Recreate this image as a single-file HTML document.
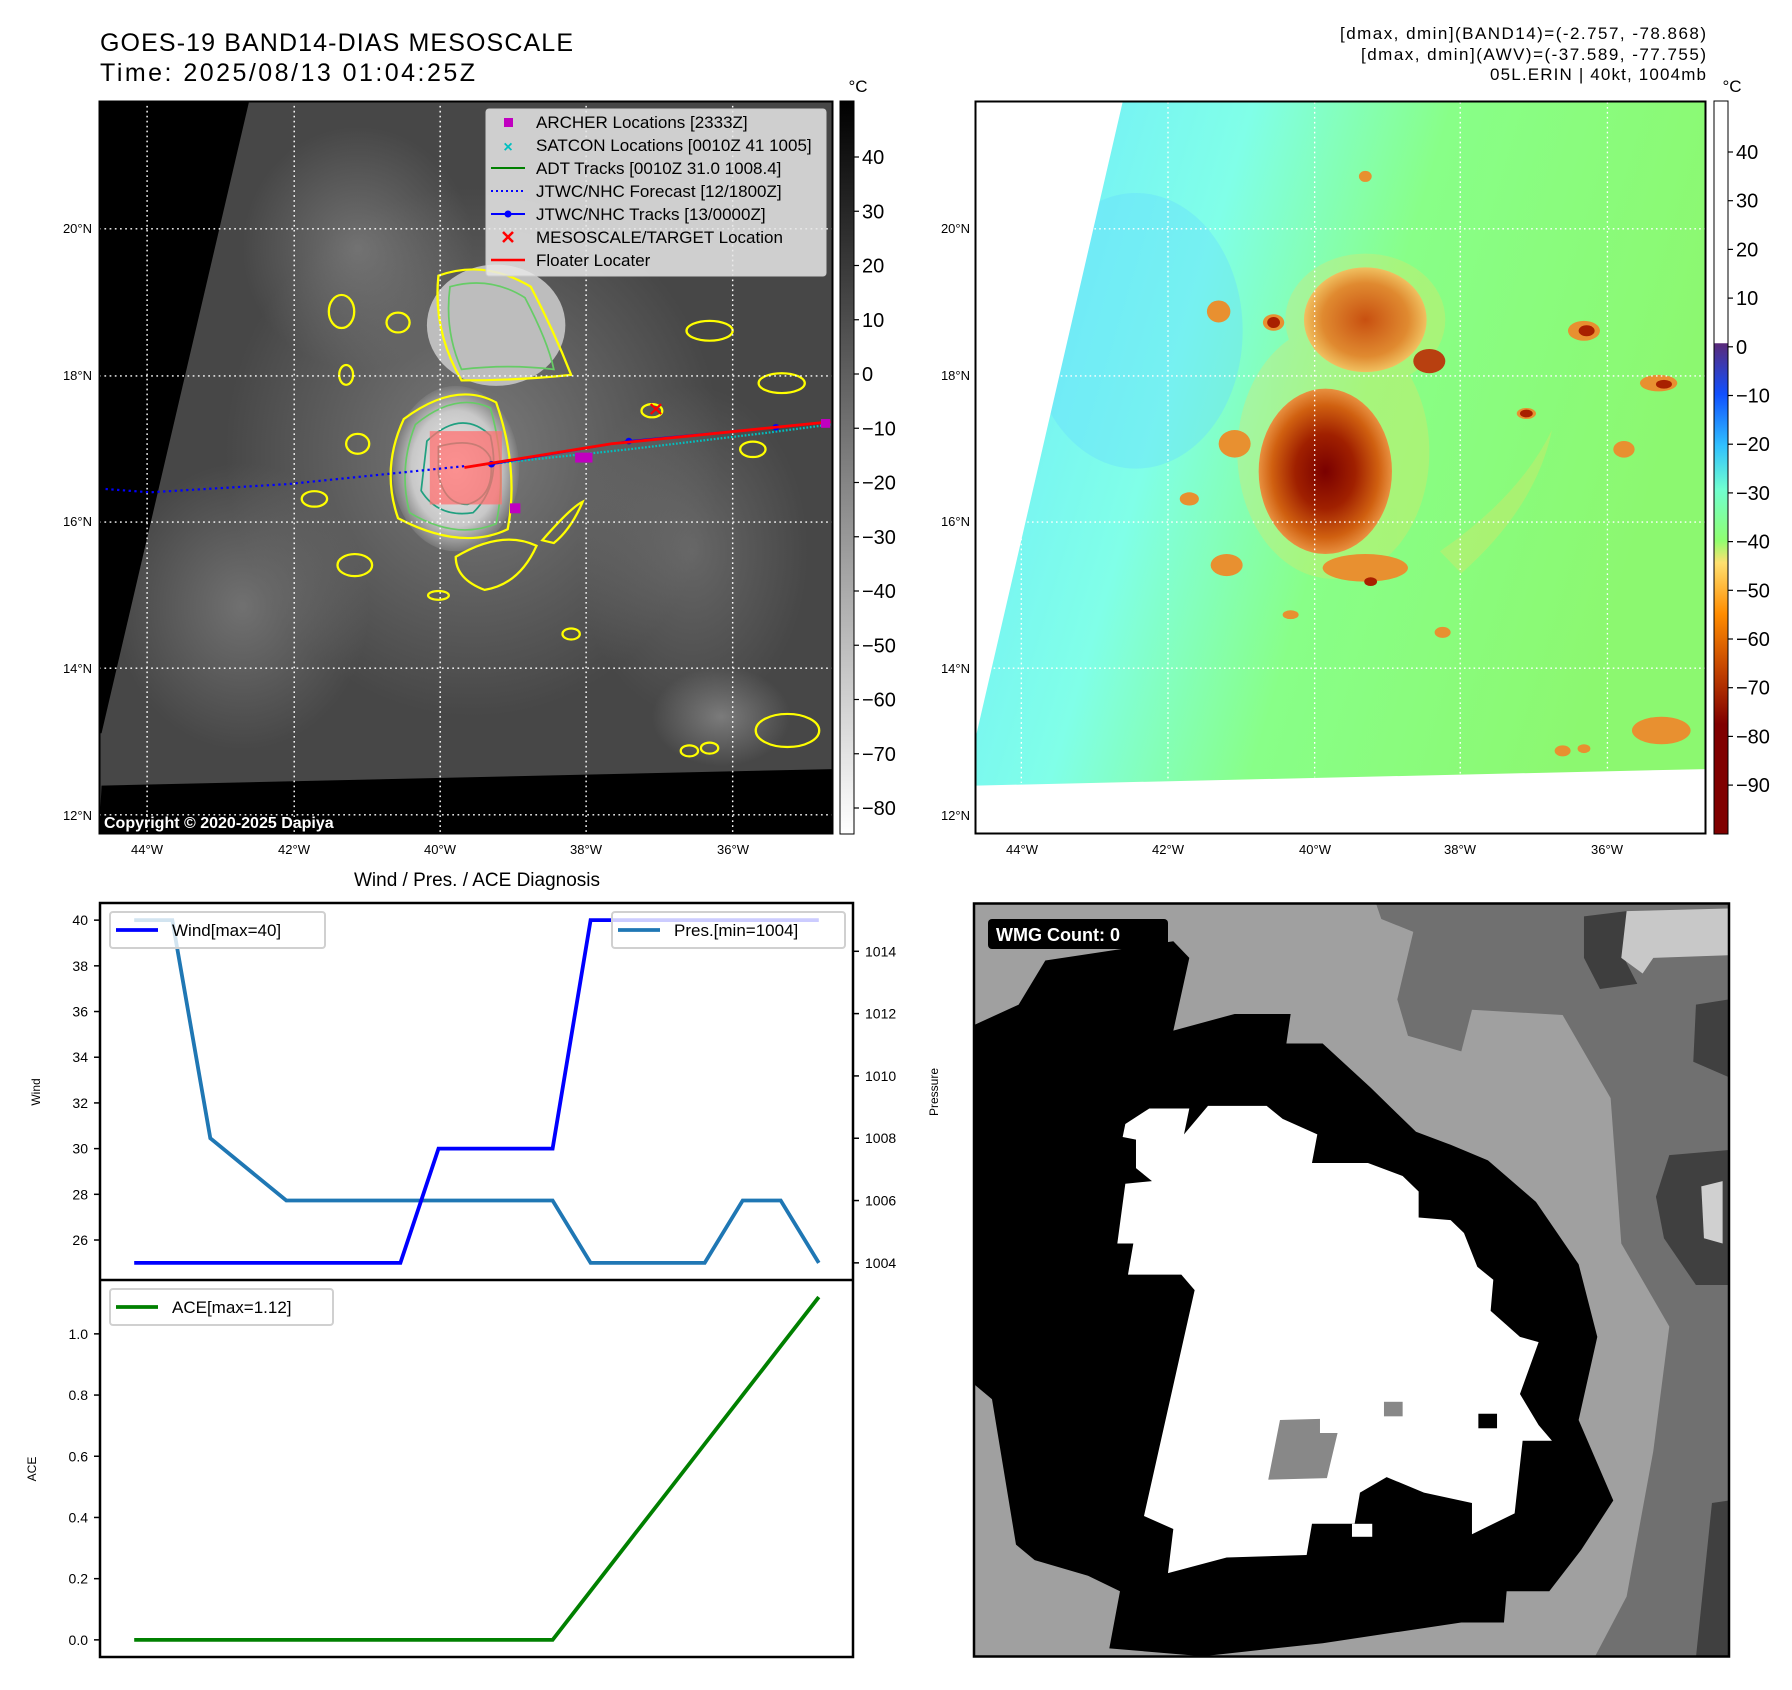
<!DOCTYPE html>
<html><head><meta charset="utf-8"><style>
html,body{margin:0;padding:0;background:#fff;}
svg{display:block;font-family:"Liberation Sans","DejaVu Sans",sans-serif;}
</style></head><body>
<svg id="root" width="1792" height="1690" viewBox="0 0 1792 1690" xmlns="http://www.w3.org/2000/svg">
<defs>
<linearGradient id="cb1" x1="0" y1="0" x2="0" y2="1"><stop offset="0" stop-color="#000"/><stop offset="1" stop-color="#fff"/></linearGradient>
<linearGradient id="cb2" x1="0" y1="0" x2="0" y2="1">
<stop offset="0" stop-color="#fff"/><stop offset="0.33" stop-color="#fff"/><stop offset="0.331" stop-color="#5a2a7a"/>
<stop offset="0.40" stop-color="#1050ff"/><stop offset="0.47" stop-color="#30c0ff"/><stop offset="0.53" stop-color="#70ffd0"/>
<stop offset="0.60" stop-color="#90ff70"/><stop offset="0.63" stop-color="#ffe070"/><stop offset="0.70" stop-color="#ff8c00"/>
<stop offset="0.78" stop-color="#c04000"/><stop offset="0.85" stop-color="#800000"/><stop offset="1" stop-color="#800000"/></linearGradient>
<linearGradient id="bg2" x1="0" y1="0" x2="1" y2="0.3"><stop offset="0" stop-color="#6ee8ff"/><stop offset="0.35" stop-color="#80ffe8"/><stop offset="0.6" stop-color="#88ff88"/><stop offset="1" stop-color="#8cf870"/></linearGradient>
<radialGradient id="core1"><stop offset="0" stop-color="#f0f0f0"/><stop offset="0.7" stop-color="#c8c8c8"/><stop offset="1" stop-color="#777"/></radialGradient>
<radialGradient id="core2"><stop offset="0" stop-color="#7a0000"/><stop offset="0.45" stop-color="#a02000"/><stop offset="0.8" stop-color="#d06010"/><stop offset="1" stop-color="#e89040"/></radialGradient>
<radialGradient id="up2"><stop offset="0" stop-color="#c85010"/><stop offset="0.7" stop-color="#e08a30"/><stop offset="1" stop-color="#f0c060"/></radialGradient>
<radialGradient id="soft"><stop offset="0" stop-color="#888" stop-opacity="0.8"/><stop offset="1" stop-color="#888" stop-opacity="0"/></radialGradient>
</defs>

<text x="100" y="51" font-size="25" textLength="473">GOES-19 BAND14-DIAS MESOSCALE</text>
<text x="100" y="81" font-size="25" textLength="375">Time: 2025/08/13 01:04:25Z</text>
<g font-size="17" text-anchor="end">
<text x="1706" y="39" textLength="366">[dmax, dmin](BAND14)=(-2.757, -78.868)</text>
<text x="1706" y="60" textLength="345">[dmax, dmin](AWV)=(-37.589, -77.755)</text>
<text x="1706" y="80" textLength="216">05L.ERIN | 40kt, 1004mb</text>
</g>

<!-- MAP 1 -->
<g>
<clipPath id="c1"><rect x="99" y="101" width="734" height="733"/></clipPath>
<g clip-path="url(#c1)">
<g transform="scale(0.5769,0.5513)">
<rect x="172" y="183" width="1271" height="1330" fill="#474747"/>
<ellipse cx="820" cy="820" rx="430" ry="480" fill="url(#soft)"/>
<ellipse cx="420" cy="1100" rx="220" ry="260" fill="url(#soft)" opacity="0.8"/>
<ellipse cx="620" cy="450" rx="200" ry="220" fill="url(#soft)" opacity="0.8"/>
<ellipse cx="1200" cy="1000" rx="200" ry="300" fill="url(#soft)" opacity="0.6"/>
<ellipse cx="1250" cy="1300" rx="120" ry="90" fill="url(#soft)"/>
<ellipse cx="860" cy="590" rx="120" ry="110" fill="#bdbdbd"/>
<ellipse cx="790" cy="850" rx="110" ry="150" fill="url(#core1)"/>
<g fill="none" stroke="#ffff00" stroke-width="4">
<path d="M760,500 Q840,470 920,520 Q960,600 990,680 Q900,690 800,690 Q750,600 760,500Z"/>
<path d="M700,760 Q790,690 860,730 Q900,850 880,960 Q800,1000 690,940 Q660,850 700,760Z"/>
<path d="M790,1010 Q870,960 930,990 Q900,1060 840,1070 Q790,1050 790,1010Z"/>
<ellipse cx="592" cy="565" rx="22" ry="30"/><ellipse cx="690" cy="585" rx="20" ry="18"/>
<ellipse cx="620" cy="805" rx="20" ry="18"/><ellipse cx="545" cy="905" rx="22" ry="14"/>
<ellipse cx="615" cy="1025" rx="30" ry="20"/><ellipse cx="1230" cy="600" rx="40" ry="18"/>
<ellipse cx="1355" cy="695" rx="40" ry="18"/><ellipse cx="1130" cy="745" rx="18" ry="12"/>
<ellipse cx="1305" cy="815" rx="22" ry="14"/><ellipse cx="1365" cy="1325" rx="55" ry="30"/>
<ellipse cx="1195" cy="1362" rx="15" ry="10"/><ellipse cx="1230" cy="1357" rx="15" ry="10"/>
<ellipse cx="990" cy="1150" rx="15" ry="10"/><ellipse cx="760" cy="1080" rx="18" ry="8"/>
<ellipse cx="600" cy="680" rx="12" ry="18"/>
<path d="M940,980 Q990,920 1010,910 Q990,960 960,985Z"/>
</g>
<g fill="none" stroke="#66cc66" stroke-width="3">
<path d="M780,520 Q850,500 910,540 Q950,620 960,670 Q880,660 800,670 Q770,600 780,520Z"/>
<path d="M720,770 Q790,710 850,740 Q880,850 860,950 Q790,980 710,930 Q690,850 720,770Z"/>
</g>
<g fill="none" stroke="#20a080" stroke-width="3">
<path d="M740,800 Q800,740 850,790 Q870,880 820,930 Q760,940 730,890Z"/>
<path d="M760,810 Q830,790 850,830 Q860,900 810,915 Q770,915 760,860Z"/>
</g>
<rect x="745" y="782" width="125" height="133" fill="#ff7070" opacity="0.75"/>
<path d="M172,183 L432,183 L176,1330 L172,1330Z" fill="#000"/>
<path d="M176,1425 L1443,1395 L1443,1513 L172,1513Z" fill="#000"/>
<g stroke="#fff" stroke-width="2.5" stroke-dasharray="3,6">
<line x1="255" y1="183" x2="255" y2="1513"/><line x1="510" y1="183" x2="510" y2="1513"/>
<line x1="763" y1="183" x2="763" y2="1513"/><line x1="1016" y1="183" x2="1016" y2="1513"/>
<line x1="1270" y1="183" x2="1270" y2="1513"/>
<line x1="172" y1="415" x2="1443" y2="415"/><line x1="172" y1="682" x2="1443" y2="682"/>
<line x1="172" y1="947" x2="1443" y2="947"/><line x1="172" y1="1212" x2="1443" y2="1212"/>
<line x1="172" y1="1478" x2="1443" y2="1478"/>
</g>
<polyline points="183,887 260,893 500,878 810,845" fill="none" stroke="#0000ff" stroke-width="4" stroke-dasharray="4,6"/>
<polyline points="820,845 1090,815 1330,785 1440,770" fill="none" stroke="#00c0c0" stroke-width="4" stroke-dasharray="3,3"/>
<polyline points="852,842 1090,800 1345,775 1440,765" fill="none" stroke="#0000ff" stroke-width="3.5"/>
<circle cx="852" cy="842" r="6" fill="#0000ff"/><circle cx="1090" cy="800" r="6" fill="#0000ff"/><circle cx="1345" cy="775" r="6" fill="#0000ff"/>
<polyline points="805,848 1060,805 1440,765" fill="none" stroke="#ff0000" stroke-width="5"/>
<g fill="#c000c0"><rect x="884" y="913" width="18" height="18"/><rect x="997" y="821" width="30" height="18"/><rect x="1423" y="760" width="16" height="16"/></g>
<path d="M1128,733 L1146,751 M1146,733 L1128,751" stroke="#ff0000" stroke-width="4"/>
</g>
</g>
<text x="104" y="828" font-size="16" font-weight="bold" fill="#fff">Copyright © 2020-2025 Dapiya</text>
<rect x="99.5" y="101.5" width="733" height="732" fill="none" stroke="#000" stroke-width="2"/>
</g>

<g font-size="17">
<rect x="486" y="109" width="340" height="167" rx="3" fill="#e8e8e8" fill-opacity="0.85" stroke="#ccc"/>
<rect x="504" y="118" width="9" height="9" fill="#c000c0"/><text x="536" y="128">ARCHER Locations [2333Z]</text>
<text x="508" y="152" fill="#00c0c0" font-size="16" text-anchor="middle" font-weight="bold">×</text><text x="536" y="151">SATCON Locations [0010Z 41 1005]</text>
<line x1="491" y1="168" x2="525" y2="168" stroke="#008000" stroke-width="2"/><text x="536" y="174">ADT Tracks [0010Z 31.0 1008.4]</text>
<line x1="491" y1="191" x2="525" y2="191" stroke="#0000ff" stroke-width="2" stroke-dasharray="2,3"/><text x="536" y="197">JTWC/NHC Forecast [12/1800Z]</text>
<line x1="491" y1="214" x2="525" y2="214" stroke="#0000ff" stroke-width="2"/><circle cx="508" cy="214" r="3.5" fill="#0000ff"/><text x="536" y="220">JTWC/NHC Tracks [13/0000Z]</text>
<path d="M503,232 L513,242 M513,232 L503,242" stroke="#ff0000" stroke-width="2.5"/><text x="536" y="243">MESOSCALE/TARGET Location</text>
<line x1="491" y1="260" x2="525" y2="260" stroke="#ff0000" stroke-width="2.5"/><text x="536" y="266">Floater Locater</text>
</g>

<g font-size="13" text-anchor="end">
<text x="92" y="233">20°N</text><text x="92" y="380">18°N</text><text x="92" y="526">16°N</text><text x="92" y="673">14°N</text><text x="92" y="820">12°N</text>
</g>
<g font-size="13" text-anchor="middle">
<text x="147" y="854">44°W</text><text x="294" y="854">42°W</text><text x="440" y="854">40°W</text><text x="586" y="854">38°W</text><text x="733" y="854">36°W</text>
</g>
<g>
<rect x="840" y="101" width="14" height="733" fill="url(#cb1)" stroke="#000" stroke-width="1"/>
<text x="858" y="92" font-size="17" text-anchor="middle">°C</text>
<g id="cb1ticks" font-size="20"></g>
</g>

<!-- MAP 2 -->
<g>
<clipPath id="c2"><rect x="975" y="101" width="731" height="733"/></clipPath>
<g clip-path="url(#c2)">
<g transform="translate(960,0) scale(0.5333,0.5513)">
<rect x="27" y="185" width="1372" height="1325" fill="url(#bg2)"/>
<ellipse cx="330" cy="600" rx="200" ry="250" fill="#66ddff" opacity="0.4"/>
<g fill="#f0e060" opacity="0.3">
<ellipse cx="700" cy="820" rx="180" ry="230"/>
<path d="M900,1000 Q1050,900 1110,780 Q1080,920 940,1040Z"/>
<ellipse cx="760" cy="580" rx="150" ry="120"/>
</g>
<ellipse cx="760" cy="580" rx="115" ry="95" fill="url(#up2)"/>
<ellipse cx="880" cy="655" rx="30" ry="22" fill="#b84010"/>
<ellipse cx="685" cy="855" rx="125" ry="150" fill="url(#core2)"/>
<g fill="#e89030">
<ellipse cx="588" cy="585" rx="20" ry="15"/><ellipse cx="485" cy="565" rx="22" ry="20"/>
<ellipse cx="515" cy="805" rx="30" ry="25"/><ellipse cx="500" cy="1025" rx="30" ry="20"/>
<ellipse cx="430" cy="905" rx="18" ry="12"/><ellipse cx="1170" cy="600" rx="30" ry="18"/>
<ellipse cx="1310" cy="695" rx="35" ry="15"/><ellipse cx="1062" cy="750" rx="18" ry="10"/>
<ellipse cx="1245" cy="815" rx="20" ry="15"/><ellipse cx="1315" cy="1325" rx="55" ry="25"/>
<ellipse cx="1130" cy="1362" rx="15" ry="10"/><ellipse cx="1170" cy="1358" rx="12" ry="8"/>
<ellipse cx="760" cy="1030" rx="80" ry="25"/><ellipse cx="905" cy="1147" rx="15" ry="10"/>
<ellipse cx="620" cy="1115" rx="15" ry="8"/><ellipse cx="760" cy="320" rx="12" ry="10"/>
</g>
<g fill="#a82000"><ellipse cx="588" cy="585" rx="12" ry="10"/><ellipse cx="1175" cy="600" rx="15" ry="10"/><ellipse cx="1320" cy="697" rx="15" ry="8"/><ellipse cx="1062" cy="750" rx="12" ry="7"/><ellipse cx="770" cy="1055" rx="12" ry="8"/></g>
<path d="M27,185 L305,185 L30,1335 L27,1335Z" fill="#fff"/>
<path d="M30,1425 L1399,1395 L1399,1510 L27,1510Z" fill="#fff"/>
<g stroke="#fff" stroke-width="2.5" stroke-dasharray="3,6">
<line x1="115" y1="185" x2="115" y2="1420"/><line x1="390" y1="185" x2="390" y2="1415"/>
<line x1="665" y1="185" x2="665" y2="1410"/><line x1="938" y1="185" x2="938" y2="1405"/>
<line x1="1214" y1="185" x2="1214" y2="1400"/>
<line x1="27" y1="415" x2="1399" y2="415"/><line x1="27" y1="682" x2="1399" y2="682"/>
<line x1="27" y1="947" x2="1399" y2="947"/><line x1="27" y1="1212" x2="1399" y2="1212"/>
</g>
</g>
</g>
<rect x="975.5" y="101.5" width="730" height="732" fill="none" stroke="#000" stroke-width="2"/>
</g>
<g font-size="13" text-anchor="end">
<text x="970" y="233">20°N</text><text x="970" y="380">18°N</text><text x="970" y="526">16°N</text><text x="970" y="673">14°N</text><text x="970" y="820">12°N</text>
</g>
<g font-size="13" text-anchor="middle">
<text x="1022" y="854">44°W</text><text x="1168" y="854">42°W</text><text x="1315" y="854">40°W</text><text x="1460" y="854">38°W</text><text x="1607" y="854">36°W</text>
</g>
<g>
<rect x="1714" y="101" width="14" height="733" fill="url(#cb2)" stroke="#000" stroke-width="1"/>
<text x="1732" y="92" font-size="17" text-anchor="middle">°C</text>
<g id="cb2ticks" font-size="20"></g>
</g>

<!-- BOTTOM RIGHT -->
<g>
<g transform="translate(960,880) scale(0.5333,0.5192)">
<rect x="25" y="45" width="1417" height="1452" fill="#a0a0a0"/>
<path d="M780,45 L1442,45 L1442,1497 L1190,1497 L1250,1380 L1300,1100 L1330,860 L1240,700 L1220,420 L1130,260 L960,250 L940,330 L840,300 L820,230 L850,100 L790,75Z" fill="#707070"/>
<path d="M1170,70 L1250,60 L1245,150 L1270,200 L1200,210 L1170,150Z" fill="#3e3e3e"/>
<path d="M1250,60 L1440,55 L1440,145 L1300,150 L1280,180 L1240,150Z" fill="#c8c8c8"/>
<path d="M1380,240 L1442,230 L1442,380 L1375,350Z" fill="#404040"/>
<path d="M1330,530 L1442,520 L1442,780 L1380,780 L1320,690 L1305,610Z" fill="#404040"/>
<path d="M1390,590 L1430,580 L1430,700 L1395,690Z" fill="#d0d0d0"/>
<path d="M1410,1200 L1442,1195 L1442,1497 L1380,1497Z" fill="#404040"/>
<path d="M25,280 L110,240 L160,155 L400,118 L430,150 L400,290 L515,258 L620,258 L612,315 L680,315 L770,400 L855,485 L920,510 L990,540 L1080,620 L1160,740 L1195,880 L1160,1040 L1225,1195 L1165,1290 L1105,1370 L1025,1370 L1020,1430 L940,1430 L680,1470 L455,1495 L280,1480 L300,1370 L240,1340 L140,1310 L105,1280 L60,1000 L25,970Z" fill="#000"/>
<path d="M310,470 L355,440 L430,440 L420,490 L465,435 L575,435 L605,460 L670,490 L660,545 L765,545 L830,570 L860,600 L860,650 L920,655 L945,680 L970,745 L1000,770 L995,830 L1050,880 L1085,890 L1050,990 L1085,1050 L1110,1080 L1055,1080 L1040,1220 L960,1260 L960,1200 L870,1180 L800,1150 L750,1180 L740,1240 L660,1240 L650,1300 L500,1305 L390,1335 L400,1250 L345,1225 L440,790 L415,760 L315,760 L325,700 L295,700 L310,585 L360,580 L330,555 L330,500 L305,495Z" fill="#fff"/>
<path d="M600,1040 L675,1038 L675,1065 L708,1065 L688,1152 L578,1155Z" fill="#888"/>
<rect x="795" y="1005" width="35" height="28" fill="#888"/>
<rect x="972" y="1028" width="35" height="28" fill="#000"/>
<rect x="735" y="1240" width="38" height="25" fill="#fff"/>
</g>
<rect x="988" y="919" width="180" height="30" rx="4" fill="#000"/>
<text x="996" y="941" font-size="18" font-weight="bold" fill="#fff">WMG Count: 0</text>
<rect x="974" y="903.5" width="755" height="753" fill="none" stroke="#000" stroke-width="2.5"/>
</g>

<text x="477" y="886" font-size="19" text-anchor="middle">Wind / Pres. / ACE Diagnosis</text>
<g id="chart"></g>
</svg>
<script>
const steps = [0,1,2,3,4,5,6,7,8,9,10,11,12,13,14,15,16,17,18];
const windVals = [25,25,25,25,25,25,25,25,30,30,30,30,40,40,40,40,40,40,40];
const presVals = [1015,1015,1008,1007,1006,1006,1006,1006,1006,1006,1006,1006,1004,1004,1004,1004,1006,1006,1004];
const aceVals = [0,0,0,0,0,0,0,0,0,0,0,0,0.16,0.32,0.48,0.64,0.80,0.96,1.12];
const windTicks = [26,28,30,32,34,36,38,40];
const presTicks = [1004,1006,1008,1010,1012,1014];
const aceTicks = [0.0,0.2,0.4,0.6,0.8,1.0];
const cb1Ticks = [40,30,20,10,0,-10,-20,-30,-40,-50,-60,-70,-80];
const cb2Ticks = [40,30,20,10,0,-10,-20,-30,-40,-50,-60,-70,-80,-90];

const NS='http://www.w3.org/2000/svg';
function mk(tag, attrs, parent){const e=document.createElementNS(NS,tag);for(const k in attrs)e.setAttribute(k,attrs[k]);parent.appendChild(e);return e;}
function mn(a){return Math.min(...a);} function mx(a){return Math.max(...a);}

const L=100,R=853,T1=903,B1=1280,T2=1280,B2=1657;
const xmin=mn(steps),xmax=mx(steps),xp=(xmax-xmin)*0.05;
const xs=v=>L+(v-(xmin-xp))/((xmax+xp)-(xmin-xp))*(R-L);
function yScale(arr,top,bot){const a=mn(arr),b=mx(arr),p=(b-a)*0.05;return v=>bot-(v-(a-p))/((b+p)-(a-p))*(bot-top);}
const yw=yScale(windVals,T1,B1), yp=yScale(presVals,T1,B1), ya=yScale(aceVals,T2,B2);
const g=document.getElementById('chart');

function line(vals,ys,color,name){
  const pts=steps.map((s,i)=>xs(s).toFixed(1)+','+ys(vals[i]).toFixed(1)).join(' ');
  const p=mk('polyline',{points:pts,fill:'none',stroke:color,'stroke-width':3.8},g);
  
  
}
line(presVals,yp,'#1f77b4','pressure-line');
line(windVals,yw,'#0000ff','wind-line');
line(aceVals,ya,'#008000','ace-line');

function ticks(arr,ys,side,fmt,name){
  arr.forEach(v=>{
    const y=ys(v);
    const x0= side==='l'?L:R;
    const t=mk('line',{x1:x0,x2:side==='l'?x0-6:x0+6,y1:y,y2:y,stroke:'#000','stroke-width':1.5},g);
    
    
    const tx=mk('text',{x:side==='l'?x0-12:x0+12,y:y+5,'font-size':14,'text-anchor':side==='l'?'end':'start'},g);
    tx.textContent=fmt(v);
    
    
  });
}
ticks(windTicks,yw,'l',v=>String(v),'wind-axis');
ticks(presTicks,yp,'r',v=>String(v),'pressure-axis');
ticks(aceTicks,ya,'l',v=>v.toFixed(1),'ace-axis');

mk('rect',{x:L,y:T1,width:R-L,height:B2-T1,fill:'none',stroke:'#000','stroke-width':2.5},g);
mk('line',{x1:L,x2:R,y1:T2,y2:T2,stroke:'#000','stroke-width':2.5},g);

function rlabel(txt,x,y,name){const t=mk('text',{x:x,y:y,'font-size':12,'text-anchor':'middle',transform:`rotate(-90 ${x} ${y})`},g);t.textContent=txt;
  
  }
rlabel('Wind',40,1092,'wind-axis-title');
rlabel('Pressure',938,1092,'pressure-axis-title');
rlabel('ACE',36,1469,'ace-axis-title');

function legend(x,y,w,color,txt,name){
  const lg=mk('g',{},g);
  
  
  mk('rect',{x:x,y:y,width:w,height:36,rx:3,fill:'#fff','fill-opacity':0.8,stroke:'#d0d0d0','stroke-width':2},lg);
  mk('line',{x1:x+6,x2:x+48,y1:y+18,y2:y+18,stroke:color,'stroke-width':3.8},lg);
  const t=mk('text',{x:x+62,y:y+24,'font-size':17},lg);t.textContent=txt;
}
legend(110,912,215,'#0000ff','Wind[max=40]','wind-legend');
legend(612,912,233,'#1f77b4','Pres.[min=1004]','pressure-legend');
legend(110,1289,223,'#008000','ACE[max=1.12]','ace-legend');

function cbt(arr,id,x,y0,step,name){
  const cg=document.getElementById(id);
  arr.forEach((v,i)=>{const y=y0+i*step;
    const l=mk('line',{x1:x,x2:x+5,y1:y,y2:y,stroke:'#000','stroke-width':1.2},cg);
    
    
    const t=mk('text',{x:x+8,y:y+7},cg);t.textContent=(v<0?'\u2212'+(-v):String(v));
    
    });
}
cbt(cb1Ticks,'cb1ticks',854,157,54.25,'ir-colorbar');
cbt(cb2Ticks,'cb2ticks',1728,152,48.7,'awv-colorbar');
</script>
</body></html>
